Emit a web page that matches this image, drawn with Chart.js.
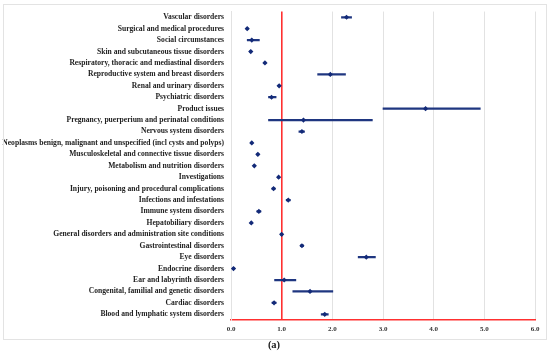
<!DOCTYPE html>
<html>
<head>
<meta charset="utf-8">
<script src="https://cdn.jsdelivr.net/npm/chart.js@4/dist/chart.umd.min.js"></script>
<style>
  html, body { margin: 0; padding: 0; background: #fff; }
  #wrap { position: relative; width: 550px; height: 354px; }
  #c { position: absolute; left: 0; top: 0; }
  #frame { position: absolute; left: 3px; top: 4px; width: 542px; height: 334px; border: 1px solid #e3e3e3; pointer-events: none; }
  #cap { position: absolute; left: 254px; width: 40px; top: 339px; text-align: center;
         font: bold 10.5px "Liberation Serif", serif; color: #222; }
</style>
</head>
<body>
<div id="wrap">
  <canvas id="c" width="550" height="354"></canvas>
  <div id="frame"></div>
  <div id="cap">(a)</div>
</div>
<script>
const categories = [
  "Vascular disorders",
  "Surgical and medical procedures",
  "Social circumstances",
  "Skin and subcutaneous tissue disorders",
  "Respiratory, thoracic and mediastinal disorders",
  "Reproductive system and breast disorders",
  "Renal and urinary disorders",
  "Psychiatric disorders",
  "Product issues",
  "Pregnancy, puerperium and perinatal conditions",
  "Nervous system disorders",
  "Neoplasms benign, malignant and unspecified (incl cysts and polyps)",
  "Musculoskeletal and connective tissue disorders",
  "Metabolism and nutrition disorders",
  "Investigations",
  "Injury, poisoning and procedural complications",
  "Infections and infestations",
  "Immune system disorders",
  "Hepatobiliary disorders",
  "General disorders and administration site conditions",
  "Gastrointestinal disorders",
  "Eye disorders",
  "Endocrine disorders",
  "Ear and labyrinth disorders",
  "Congenital, familial and genetic disorders",
  "Cardiac disorders",
  "Blood and lymphatic system disorders"
];
const estimate = [2.28, 0.32, 0.41, 0.39, 0.67, 1.96, 0.95, 0.80, 3.84, 1.43, 1.40, 0.41, 0.53, 0.46, 0.94, 0.84, 1.13, 0.55, 0.40, 1.00, 1.40, 2.67, 0.05, 1.05, 1.56, 0.85, 1.85];
const lower    = [2.18, 0.30, 0.32, 0.37, 0.65, 1.71, 0.93, 0.74, 3.00, 0.74, 1.34, 0.39, 0.51, 0.44, 0.92, 0.81, 1.09, 0.51, 0.38, 0.98, 1.37, 2.51, 0.03, 0.86, 1.22, 0.81, 1.78];
const upper    = [2.38, 0.34, 0.56, 0.41, 0.69, 2.26, 0.97, 0.89, 4.92, 2.79, 1.45, 0.43, 0.55, 0.48, 0.96, 0.87, 1.17, 0.59, 0.42, 1.02, 1.43, 2.85, 0.07, 1.28, 2.01, 0.89, 1.92];
const xTickLabels = ["0.0", "1.0", "2.0", "3.0", "4.0", "5.0", "6.0"];
const referenceValue = 1.0;

const navy = '#132a78';
const red = '#ff3030';
const serif = '"Liberation Serif", "Times New Roman", serif';

new Chart(document.getElementById('c'), {
  type: 'bar',
  data: {
    labels: categories,
    datasets: [
      {
        type: 'bar',
        indexAxis: 'y',
        data: categories.map((_, i) => [lower[i], upper[i]]),
        backgroundColor: '#1f3680',
        borderWidth: 0,
        barThickness: 1.6,
        order: 1
      },
      {
        type: 'line',
        indexAxis: 'y',
        data: estimate,
        showLine: false,
        pointStyle: 'rectRot',
        pointRadius: 2.6,
        pointBackgroundColor: navy,
        pointBorderColor: navy,
        pointBorderWidth: 0,
        order: 0
      }
    ]
  },
  options: {
    indexAxis: 'y',
    responsive: false,
    animation: false,
    layout: { padding: { top: 11, right: 15, left: 0, bottom: 0 } },
    plugins: { legend: { display: false }, tooltip: { enabled: false } },
    scales: {
      x: {
        type: 'linear',
        min: 0, max: 6,
        afterBuildTicks: (s) => { s.ticks = xTickLabels.map(t => ({ value: parseFloat(t) })); },
        afterFit: (s) => { s.height = 34; },
        ticks: {
          callback: (v, i) => xTickLabels[i],
          font: { family: serif, size: 7, weight: 'bold' },
          color: '#333',
          padding: 5,
          maxRotation: 0
        },
        grid: {
          drawTicks: false,
          color: (ctx) => (ctx.tick && ctx.tick.value === referenceValue) ? red : '#e2e2e2',
          lineWidth: (ctx) => (ctx.tick && ctx.tick.value === referenceValue) ? 1.6 : 1
        },
        border: { color: red, width: 1.6 }
      },
      y: {
        type: 'category',
        offset: true,
        afterFit: (s) => { s.width = 231; },
        ticks: {
          font: { family: serif, size: 7.6, weight: 'bold' },
          color: '#222',
          padding: 7,
          autoSkip: false
        },
        grid: { display: false, drawTicks: false },
        border: { color: '#e2e2e2', width: 1 }
      }
    }
  }
});
</script>
</body>
</html>
